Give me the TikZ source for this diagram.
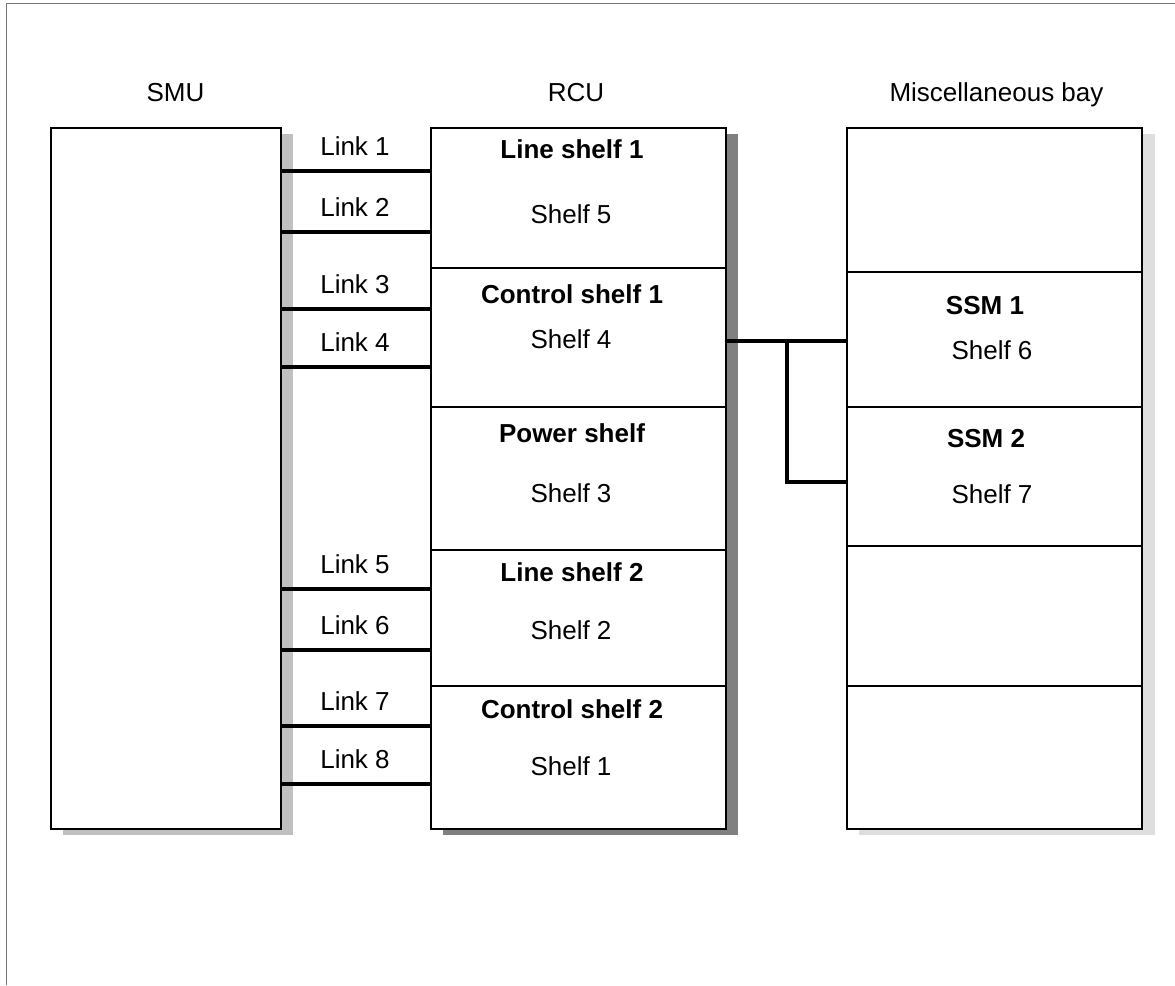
\documentclass[tikz,border=0pt]{standalone}
\usepackage{fontspec}
\setmainfont{Liberation Sans}
\definecolor{shadelight}{HTML}{C0C0C0}
\definecolor{shadedark}{HTML}{808080}
\definecolor{shadepale}{HTML}{DEDEDE}
\definecolor{framegray}{HTML}{777777}
\begin{document}
\begin{tikzpicture}[x=1pt,y=-1pt,
  font=\fontsize{26}{31}\selectfont,
  box/.style={draw=black, line width=2.8pt, fill=white, inner sep=0pt, outer sep=0pt},
  link/.style={line width=3.6pt},
  divider/.style={line width=2.3pt},
  lbl/.style={anchor=base, inner sep=0pt},
  bold/.style={lbl, font=\fontsize{26}{31}\selectfont\bfseries}]
\useasboundingbox (0,0) rectangle (1175,985);
\draw[framegray, line width=1.8pt] (6.5,985) -- (6.5,3.5) -- (1175,3.5);

% shadows
\fill[shadelight] (63,134) rectangle (293,835);
\fill[shadedark] (443,134) rectangle (738,835);
\fill[shadepale] (859,134) rectangle (1155,835);

% boxes
\node[box, minimum width=230, minimum height=701] (smu) at (166,478.5) {};
\node[box, minimum width=295, minimum height=701] (rcu) at (578.5,478.5) {};
\node[box, minimum width=295, minimum height=701] (misc) at (994.5,478.5) {};

% headers
\node[lbl] (hsmu) at (175.5,101) {SMU};
\node[lbl] (hrcu) at (576,101) {RCU};
\node[lbl] (hmisc) at (996.5,101) {Miscellaneous bay};

% RCU dividers
\foreach \y in {268,407,550,686}
  \draw[divider] (rcu.west |- 0,\y) -- (rcu.east |- 0,\y);
% Misc dividers
\foreach \y in {272,407,546,686}
  \draw[divider] (misc.west |- 0,\y) -- (misc.east |- 0,\y);

% links
\foreach \y/\t in {171/1,232/2,309/3,367/4,589/5,650/6,726/7,784/8}{
  \draw[link] (smu.east |- 0,\y) -- (rcu.west |- 0,\y);
  \node[lbl] (link\t) at (355,\y-15.5) {Link \t};
}

% RCU shelf texts
\node[bold] (ls1) at (572,158) {Line shelf 1};
\node[lbl] (s5) at (571,223) {Shelf 5};
\node[bold] (cs1) at (572,303) {Control shelf 1};
\node[lbl] (s4) at (571,348) {Shelf 4};
\node[bold] (ps) at (572,442) {Power shelf};
\node[lbl] (s3) at (571,502) {Shelf 3};
\node[bold] (ls2) at (572,581) {Line shelf 2};
\node[lbl] (s2) at (571,639) {Shelf 2};
\node[bold] (cs2) at (572,718) {Control shelf 2};
\node[lbl] (s1) at (571,775) {Shelf 1};

% Misc bay texts
\node[bold] (ssm1) at (985,314) {SSM 1};
\node[lbl] (s6) at (992,359) {Shelf 6};
\node[bold] (ssm2) at (986,447) {SSM 2};
\node[lbl] (s7) at (992,503) {Shelf 7};

% connector RCU -> SSM
\coordinate (j1) at (787,341);
\coordinate (j2) at (787,482);
\draw[link] (rcu.east |- j1) -- (misc.west |- j1);
\draw[link] (j1) -- (j2) -- (misc.west |- j2);
\end{tikzpicture}
\end{document}
